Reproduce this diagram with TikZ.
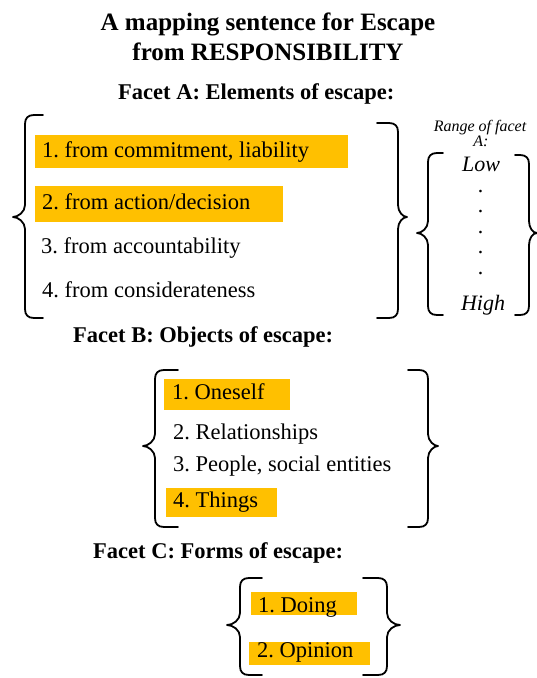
\documentclass[tikz,border=0pt]{standalone}
\usepackage{fontspec}
\setmainfont{Liberation Serif}
\usepackage{tikz}

\definecolor{hiyellow}{HTML}{FFC000}
\tikzset{
  brc/.style={draw=black,line width=1.8pt,line cap=round,line join=round},
  hilite/.style={fill=hiyellow},
  ttl/.style={anchor=base,inner sep=0pt,font=\bfseries\fontsize{25}{30}\selectfont},
  facet/.style={anchor=base west,inner sep=0pt,font=\bfseries\fontsize{22.5}{27}\selectfont},
  itm/.style={anchor=base west,inner sep=0pt,font=\fontsize{22.5}{27}\selectfont},
  rng/.style={anchor=base,inner sep=0pt,font=\itshape\fontsize{22}{26}\selectfont},
  rnglbl/.style={anchor=base,inner sep=0pt,font=\itshape\fontsize{16}{18}\selectfont},
}

\begin{document}
\frenchspacing
\begin{tikzpicture}[x=1pt,y=-1pt]
\useasboundingbox (0,0) rectangle (536,678);

% highlights
\fill[hilite] (35,135) rectangle (348,168);
\fill[hilite] (35,186) rectangle (283,222);
\fill[hilite] (164,379) rectangle (290,410);
\fill[hilite] (166,488) rectangle (277,517);
\fill[hilite] (251,592) rectangle (357,615);
\fill[hilite] (249,642) rectangle (370,665);

\node[ttl] (0) at (268,30) {A mapping sentence for Escape};
\node[ttl] (1) at (268,60) {from RESPONSIBILITY};
\node[facet] (2) at (118,99) {Facet A: Elements of escape:};
\node[itm] (3) at (42,157) {1. from commitment, liability};
\node[itm] (4) at (42,209) {2. from action/decision};
\node[itm] (5) at (41,253) {3. from accountability};
\node[itm] (6) at (42,297) {4. from considerateness};
\node[rnglbl] (7) at (480,131) {Range of facet};
\node[rnglbl] (8) at (481,146) {A:};
\node[rng] (9) at (481,171) {Low};
\node[rng] (10) at (481,192) {.};
\node[rng] (11) at (481,212) {.};
\node[rng] (12) at (481,233) {.};
\node[rng] (13) at (481,253) {.};
\node[rng] (14) at (481,274) {.};
\node[rng] (15) at (483,310) {High};
\node[facet] (16) at (73,342) {Facet B: Objects of escape:};
\node[itm] (17) at (172,399) {1. Oneself};
\node[itm] (18) at (173,439) {2. Relationships};
\node[itm] (19) at (173,471) {3. People, social entities};
\node[itm] (20) at (173,507) {4. Things};
\node[facet] (21) at (93,558) {Facet C: Forms of escape:};
\node[itm] (22) at (258,612) {1. Doing};
\node[itm] (23) at (257,657) {2. Opinion};

% braces
\draw[brc] (43,115) -- (34,115) .. controls (28,115) and (25,118) .. (25,124) -- (25,205) .. controls (25,212) and (18,217) .. (13,217) .. controls (18,217) and (25,222) .. (25,229) -- (25,309) .. controls (25,315) and (28,318) .. (34,318) -- (43,318);
\draw[brc] (377,123) -- (389,123) .. controls (395,123) and (398,126) .. (398,132) -- (398,205) .. controls (398,212) and (403,217) .. (407,217) .. controls (403,217) and (398,222) .. (398,229) -- (398,309) .. controls (398,315) and (395,318) .. (389,318) -- (377,318);
\draw[brc] (443,153) -- (437,153) .. controls (431,153) and (428,156) .. (428,162) -- (428,221) .. controls (428,228) and (422,233) .. (417,233) .. controls (422,233) and (428,238) .. (428,245) -- (428,306) .. controls (428,312) and (431,315) .. (437,315) -- (443,315);
\draw[brc] (515,155) -- (520,155) .. controls (526,155) and (529,158) .. (529,164) -- (529,221) .. controls (529,228) and (533,233) .. (537,233) .. controls (533,233) and (529,238) .. (529,245) -- (529,306) .. controls (529,312) and (526,315) .. (520,315) -- (515,315);
\draw[brc] (178,370) -- (164,370) .. controls (158,370) and (155,373) .. (155,379) -- (155,434) .. controls (155,441) and (148,446) .. (143,446) .. controls (148,446) and (155,451) .. (155,458) -- (155,518) .. controls (155,524) and (158,527) .. (164,527) -- (178,527);
\draw[brc] (408,370) -- (419,370) .. controls (425,370) and (428,373) .. (428,379) -- (428,434) .. controls (428,441) and (434,446) .. (438,446) .. controls (434,446) and (428,451) .. (428,458) -- (428,518) .. controls (428,524) and (425,527) .. (419,527) -- (408,527);
\draw[brc] (262,578) -- (249,578) .. controls (243,578) and (240,581) .. (240,587) -- (240,613) .. controls (240,620) and (233,625) .. (227,625) .. controls (233,625) and (240,630) .. (240,637) -- (240,666) .. controls (240,672) and (243,675) .. (249,675) -- (262,675);
\draw[brc] (363,578) -- (378,578) .. controls (384,578) and (387,581) .. (387,587) -- (387,613) .. controls (387,620) and (394,625) .. (400,625) .. controls (394,625) and (387,630) .. (387,637) -- (387,666) .. controls (387,672) and (384,675) .. (378,675) -- (363,675);
\end{tikzpicture}
\end{document}
